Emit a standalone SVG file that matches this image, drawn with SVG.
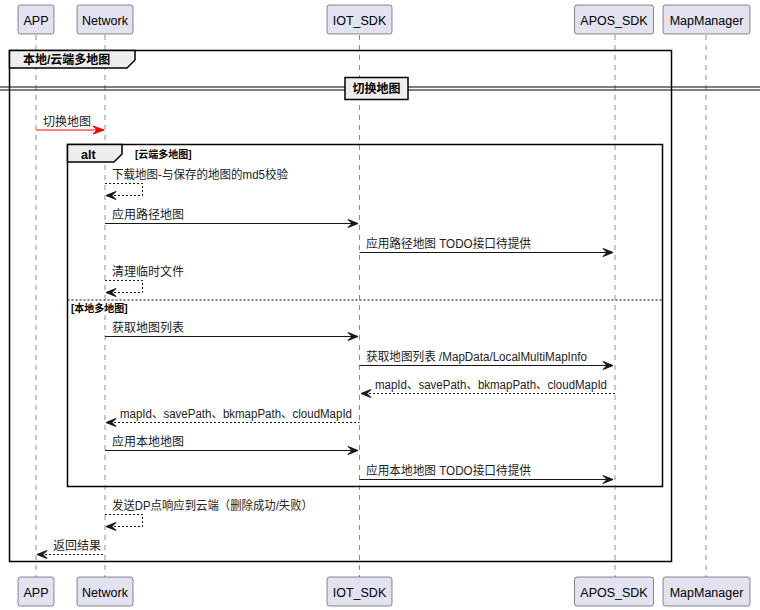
<svg xmlns="http://www.w3.org/2000/svg" width="760" height="610" viewBox="0 0 760 610">
<defs>
<style>
.life{stroke:#181818;stroke-width:0.5;stroke-dasharray:5,5;fill:none}
.pbox{fill:#E2E2F0;stroke:#181818;stroke-width:0.5}
.ptxt{font-family:"Liberation Sans","Noto Sans CJK SC",sans-serif;font-size:12.5px;fill:#000;text-anchor:middle}
.msg{font-family:"Liberation Sans","Noto Sans CJK SC",sans-serif;font-size:12px;fill:#222}
.bold{font-family:"Liberation Sans","Noto Sans CJK SC",sans-serif;font-weight:bold;fill:#000}
.line{stroke:#181818;stroke-width:1;fill:none}
.dash{stroke:#181818;stroke-width:1;stroke-dasharray:2,2;fill:none}
.frame{stroke:#000;stroke-width:1.5;fill:none}
.tab{fill:#EEEEEE;stroke:#000;stroke-width:1.5}
.head{fill:#181818;stroke:#181818;stroke-width:1}
</style>
</defs>

<g id="lifelines">
<line class="life" x1="36" y1="35" x2="36" y2="577"/>
<line class="life" x1="105" y1="35" x2="105" y2="577"/>
<line class="life" x1="359.5" y1="35" x2="359.5" y2="577"/>
<line class="life" x1="615" y1="35" x2="615" y2="577"/>
<line class="life" x1="706" y1="35" x2="706" y2="577"/>
</g>

<g id="APP">
<rect class="pbox" x="18" y="5" width="36" height="29" rx="2.5"/>
<text class="ptxt" x="36" y="24.5">APP</text>
<rect class="pbox" x="18" y="577" width="36" height="29" rx="2.5"/>
<text class="ptxt" x="36" y="596.5">APP</text>
</g>
<g id="Network">
<rect class="pbox" x="77" y="5" width="56" height="29" rx="2.5"/>
<text class="ptxt" x="105" y="24.5">Network</text>
<rect class="pbox" x="77" y="577" width="56" height="29" rx="2.5"/>
<text class="ptxt" x="105" y="596.5">Network</text>
</g>
<g id="IOT_SDK">
<rect class="pbox" x="327" y="5" width="65" height="29" rx="2.5"/>
<text class="ptxt" x="359.5" y="24.5">IOT_SDK</text>
<rect class="pbox" x="327" y="577" width="65" height="29" rx="2.5"/>
<text class="ptxt" x="359.5" y="596.5">IOT_SDK</text>
</g>
<g id="APOS_SDK">
<rect class="pbox" x="574.5" y="5" width="79" height="29" rx="2.5"/>
<text class="ptxt" x="614" y="24.5">APOS_SDK</text>
<rect class="pbox" x="574.5" y="577" width="79" height="29" rx="2.5"/>
<text class="ptxt" x="614" y="596.5">APOS_SDK</text>
</g>
<g id="MapManager">
<rect class="pbox" x="663" y="5" width="87" height="29" rx="2.5"/>
<text class="ptxt" x="706.5" y="24.5">MapManager</text>
<rect class="pbox" x="663" y="577" width="87" height="29" rx="2.5"/>
<text class="ptxt" x="706.5" y="596.5">MapManager</text>
</g>

<g id="group-outer">
<rect class="frame" x="9.5" y="50.5" width="662" height="511"/>
<path class="tab" d="M9.5,50.5 H135 V60 L127,68 H9.5 Z"/>
<text class="bold" x="23" y="64" font-size="12">本地/云端多地图</text>
</g>

<g id="divider">
<line x1="0" y1="87" x2="760" y2="87" stroke="#000" stroke-width="1"/>
<line x1="0" y1="90" x2="760" y2="90" stroke="#000" stroke-width="1"/>
<rect x="345" y="77.5" width="63" height="22" fill="#EEEEEE" stroke="#000" stroke-width="1.5"/>
<text class="bold" x="376.5" y="93" font-size="12" text-anchor="middle">切换地图</text>
</g>

<g id="alt">
<rect class="frame" x="67.5" y="144.5" width="595" height="342"/>
<path class="tab" d="M67.5,144.5 H122 V154 L114,162 H67.5 Z"/>
<text class="bold" x="81" y="159" font-size="12.5">alt</text>
<text class="bold" x="135" y="158" font-size="10">[云端多地图]</text>
<line x1="67.5" y1="300" x2="662.5" y2="300" stroke="#000" stroke-width="1" stroke-dasharray="2,2"/>
<text class="bold" x="71" y="312" font-size="10">[本地多地图]</text>
</g>

<g id="connectors">
<text class="msg" x="43" y="126">切换地图</text>
<line x1="36" y1="130" x2="103" y2="130" stroke="#FF0000" stroke-width="1"/>
<polygon points="93,126 104,130 93,134 97,130" fill="#FF0000" stroke="#FF0000"/>

<text class="msg" x="112" y="179" textLength="176" lengthAdjust="spacingAndGlyphs">下载地图-与保存的地图的md5校验</text>
<polyline class="dash" points="105,183.5 142.5,183.5 142.5,195.5 106,195.5"/>
<polygon class="head" points="116,191.5 106,195.5 116,199.5 112,195.5"/>

<text class="msg" x="112" y="219">应用路径地图</text>
<line class="line" x1="105" y1="223.5" x2="358" y2="223.5"/>
<polygon class="head" points="348,219.5 358,223.5 348,227.5 352,223.5"/>

<text class="msg" x="366" y="248" textLength="165" lengthAdjust="spacingAndGlyphs">应用路径地图 TODO接口待提供</text>
<line class="line" x1="359.5" y1="252.5" x2="613" y2="252.5"/>
<polygon class="head" points="603,248.5 613,252.5 603,256.5 607,252.5"/>

<text class="msg" x="112" y="276">清理临时文件</text>
<polyline class="dash" points="105,280.5 142.5,280.5 142.5,292.5 106,292.5"/>
<polygon class="head" points="116,288.5 106,292.5 116,296.5 112,292.5"/>

<text class="msg" x="112" y="332">获取地图列表</text>
<line class="line" x1="105" y1="336.5" x2="358" y2="336.5"/>
<polygon class="head" points="348,332.5 358,336.5 348,340.5 352,336.5"/>

<text class="msg" x="366" y="361" textLength="221" lengthAdjust="spacingAndGlyphs">获取地图列表 /MapData/LocalMultiMapInfo</text>
<line class="line" x1="359.5" y1="365.5" x2="613" y2="365.5"/>
<polygon class="head" points="603,361.5 613,365.5 603,369.5 607,365.5"/>

<text class="msg" x="375" y="389" textLength="232" lengthAdjust="spacingAndGlyphs">mapId、savePath、bkmapPath、cloudMapId</text>
<line class="dash" x1="361" y1="393.5" x2="615" y2="393.5"/>
<polygon class="head" points="371,389.5 361,393.5 371,397.5 367,393.5"/>

<text class="msg" x="120" y="418" textLength="232" lengthAdjust="spacingAndGlyphs">mapId、savePath、bkmapPath、cloudMapId</text>
<line class="dash" x1="106" y1="422.5" x2="359.5" y2="422.5"/>
<polygon class="head" points="116,418.5 106,422.5 116,426.5 112,422.5"/>

<text class="msg" x="112" y="446">应用本地地图</text>
<line class="line" x1="105" y1="450.5" x2="358" y2="450.5"/>
<polygon class="head" points="348,446.5 358,450.5 348,454.5 352,450.5"/>

<text class="msg" x="366" y="475" textLength="165" lengthAdjust="spacingAndGlyphs">应用本地地图 TODO接口待提供</text>
<line class="line" x1="359.5" y1="479.5" x2="613" y2="479.5"/>
<polygon class="head" points="603,475.5 613,479.5 603,483.5 607,479.5"/>

<text class="msg" x="112" y="510" textLength="201" lengthAdjust="spacingAndGlyphs">发送DP点响应到云端（删除成功/失败）</text>
<polyline class="dash" points="105,514.5 142.5,514.5 142.5,526.5 106,526.5"/>
<polygon class="head" points="116,522.5 106,526.5 116,530.5 112,526.5"/>

<text class="msg" x="53" y="550">返回结果</text>
<line class="dash" x1="37" y1="554.5" x2="105" y2="554.5"/>
<polygon class="head" points="47,550.5 37,554.5 47,558.5 43,554.5"/>
</g>
</svg>
